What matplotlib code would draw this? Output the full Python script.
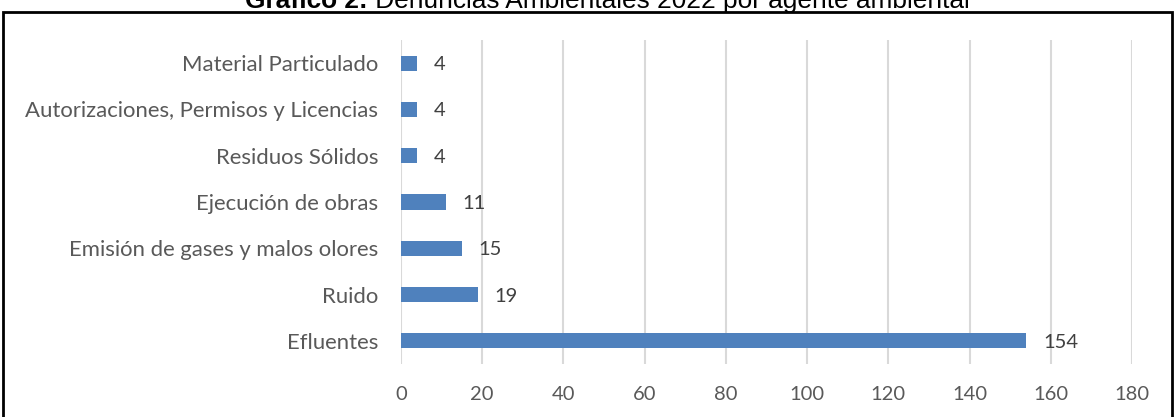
import matplotlib
matplotlib.use("Agg")
import matplotlib.pyplot as plt
from matplotlib.patches import Rectangle

categories = ["Efluentes", "Ruido", "Emisión de gases y malos olores", "Ejecución de obras",
              "Residuos Sólidos", "Autorizaciones, Permisos y Licencias", "Material Particulado"]
values = [154, 19, 15, 11, 4, 4, 4]
xticks = [0, 20, 40, 60, 80, 100, 120, 140, 160, 180]
title_bold = "Gráfico 2:"
title_rest = " Denuncias Ambientales 2022 por agente ambiental"

W, H = 1175, 417
fig = plt.figure(figsize=(W / 100, H / 100), dpi=100)
ax = fig.add_axes([401 / W, 1 - 364 / H, (1132 - 401) / W, (364 - 40) / H])

FONT = "Lato"
ypos = list(range(len(categories)))
ax.barh(ypos, values, height=0.33, color="#4F81BD", zorder=3)
ax.set_xlim(0, 180)
ax.set_ylim(-0.5, len(categories) - 0.5)
ax.set_xticks(xticks)
ax.set_yticks(ypos)
ax.set_yticklabels(categories)
for s in ax.spines.values():
    s.set_visible(False)
ax.grid(axis="x", color="#D9D9D9", linewidth=1.5, zorder=0)
ax.tick_params(axis="both", length=0, colors="#595959")
ax.tick_params(axis="x", pad=16, labelsize=14.5)
ax.tick_params(axis="y", pad=16.5, labelsize=15.9)
for lab in ax.get_xticklabels() + ax.get_yticklabels():
    lab.set_fontfamily(FONT)

for y, v in zip(ypos, values):
    ax.annotate(str(v), (v, y), xytext=(12, 0), textcoords="offset points",
                va="center_baseline", ha="left", fontsize=14.5, color="#404040", family=FONT)

fig.patches.append(Rectangle((3 / W, -0.05), (1172 - 3) / W, 1.05 - 12 / H,
                             transform=fig.transFigure, fill=False, edgecolor="black",
                             linewidth=2, clip_on=False))

ty = 1 - 8 / H
t1 = fig.text(0, ty, title_bold, ha="left", va="baseline", fontsize=18.9,
              family="Liberation Sans", fontweight="bold")
t2 = fig.text(0, ty, title_rest, ha="left", va="baseline", fontsize=18.9,
              family="Liberation Sans")
r = fig.canvas.get_renderer()
w1 = t1.get_window_extent(r).width
w2 = t2.get_window_extent(r).width
x0 = 607.5 - (w1 + w2) / 2
t1.set_x(x0 / W)
t2.set_x((x0 + w1) / W)

fig.savefig("out.png", dpi=100)
